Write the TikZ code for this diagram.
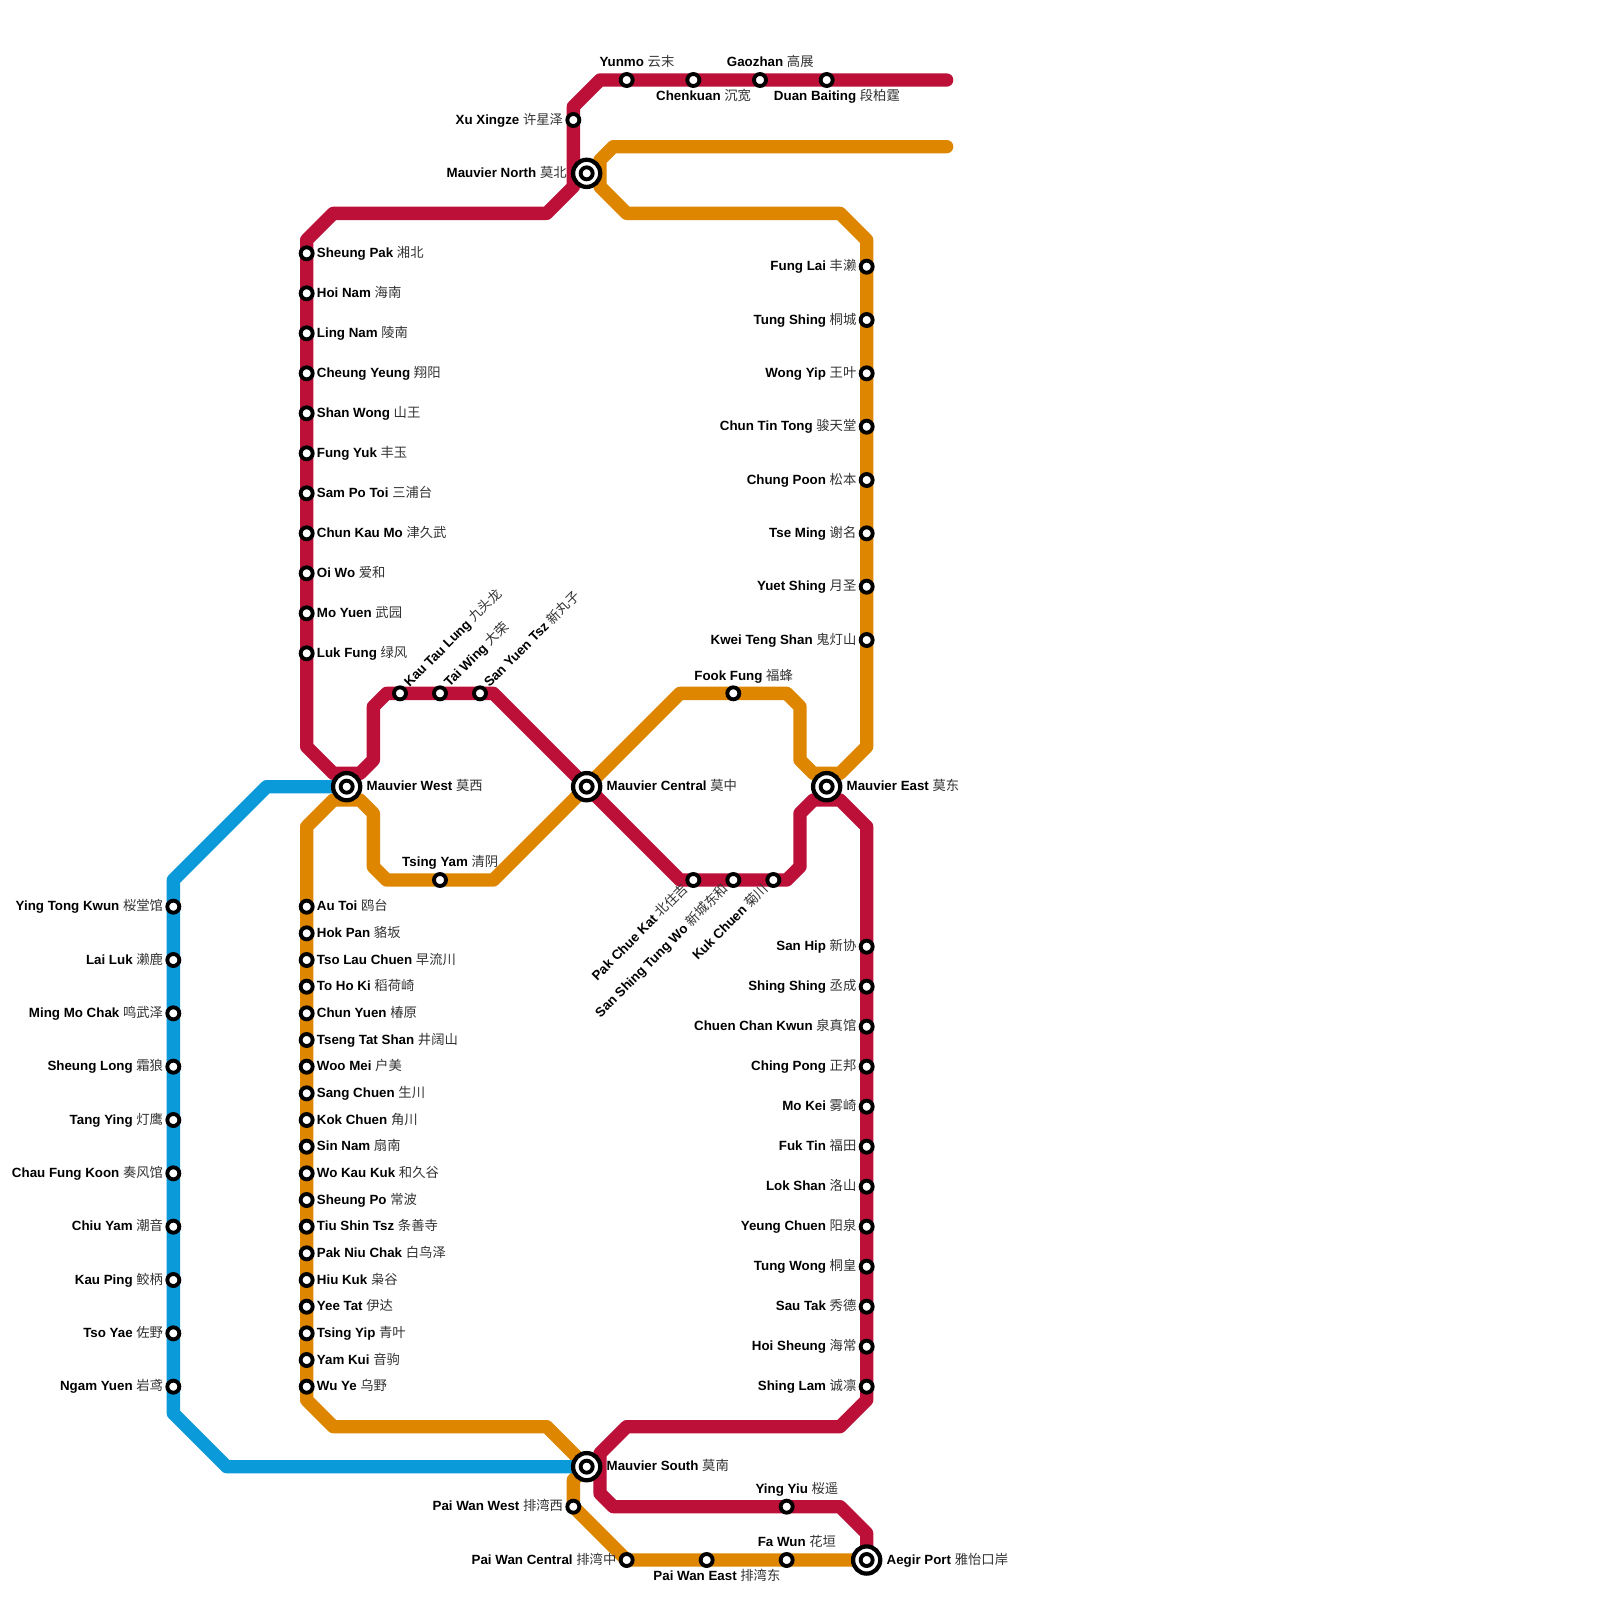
\documentclass[tikz,border=0pt]{standalone}
\usepackage{fontspec}
\setmainfont{Liberation Sans}
\newfontfamily\cjk{Noto Sans CJK SC}
\usetikzlibrary{backgrounds}
\definecolor{redline}{HTML}{BC1038}
\definecolor{orangeline}{HTML}{DF8600}
\definecolor{blueline}{HTML}{0A99D9}
\definecolor{cjkgray}{HTML}{333333}
\newcommand{\nm}[2]{\textbf{#1} {\cjk\color{cjkgray}#2}}
\tikzset{
  route/.style={line width=10pt,line cap=round,line join=round},
  stn/.style={circle,draw=black,fill=white,line width=2.9pt,minimum size=9pt,inner sep=0pt,outer sep=0pt},
  hub/.style={circle,draw=black,fill=white,line width=3.2pt,minimum size=20.4pt,inner sep=0pt,outer sep=0pt},
  lbl/.style={inner sep=0pt,outer sep=0pt,text=black,font=\fontsize{10}{12}\selectfont},
}
% label placers: #1 station, #2 latin, #3 cjk
\newcommand{\labE}[3]{\node[lbl,anchor=base west] (#1-l) at ([shift={(0.77,0.30)}]#1.center) {\nm{#2}{#3}};}
\newcommand{\labW}[3]{\node[lbl,anchor=base east] (#1-l) at ([shift={(-0.77,0.30)}]#1.center) {\nm{#2}{#3}};}
\newcommand{\labHE}[3]{\node[lbl,anchor=base west] (#1-l) at ([shift={(1.5,0.30)}]#1.center) {\nm{#2}{#3}};}
\newcommand{\labHW}[3]{\node[lbl,anchor=base east] (#1-l) at ([shift={(-1.5,0.30)}]#1.center) {\nm{#2}{#3}};}
\newcommand{\labN}[3]{\node[lbl,anchor=base] (#1-l) at ([shift={(0.77,-0.98)}]#1.center) {\nm{#2}{#3}};}
\newcommand{\labS}[3]{\node[lbl,anchor=base] (#1-l) at ([shift={(0.77,1.55)}]#1.center) {\nm{#2}{#3}};}
\newcommand{\labNE}[3]{\node[lbl,anchor=base west,rotate=45] (#1-l) at ([shift={(0.72,-0.42)}]#1.center) {\nm{#2}{#3}};}
\newcommand{\labSW}[3]{\node[lbl,anchor=base east,rotate=45] (#1-l) at ([shift={(-0.32,0.72)}]#1.center) {\nm{#2}{#3}};}
\begin{document}
\begin{tikzpicture}[x=10pt,y=-10pt]
\useasboundingbox (0,0) rectangle (120,120);
% bends and free ends
\foreach \n/\x/\y in {p1/71/6,p2/45/6,p3/43/8,p4/43/14,p5/41/16,p6/25/16,p7/23/18,p8/23/56,p9/25/58,p10/27/58,p11/28/57,p12/28/53,p13/29/52,p14/37/52,p15/51/66,p16/59/66,p17/60/65,p18/60/61,p19/61/60,p20/63/60,p21/65/62,p22/65/105,p23/63/107,p24/47/107,p25/45/109,p26/45/112,p27/46/113,p28/63/113,p29/65/115,
 q1/71/11,q2/46/11,q3/45/12,q4/45/14,q5/47/16,q6/63/16,q7/65/18,q8/65/56,q9/63/58,q10/61/58,q11/60/57,q12/60/53,q13/59/52,q14/51/52,q15/37/66,q16/29/66,q17/28/65,q18/28/61,q19/27/60,q20/25/60,q21/23/62,q22/23/105,q23/25/107,q24/41/107,q25/43/111,
 u2/20/59,u3/13/66,u4/13/106,u5/17/110}
  \coordinate (\n) at (\x,\y);
% hubs
\foreach \n/\x/\y in {north/44/13,west/26/59,central/44/59,east/62/59,south/44/110,aegir/65/117}{
  \node[hub] (\n) at (\x,\y) {};
  \node[stn] (\n-in) at (\x,\y) {};
}
\labHW{north}{Mauvier North}{莫北}
\labHE{west}{Mauvier West}{莫西}
\labHE{central}{Mauvier Central}{莫中}
\labHE{east}{Mauvier East}{莫东}
\labHE{south}{Mauvier South}{莫南}
\labHE{aegir}{Aegir Port}{雅怡口岸}
% single stations
\foreach \n/\x/\y in {xu/43/9,yunmo/47/6,chenkuan/52/6,gaozhan/57/6,duan/62/6,kau/30/52,taiwing/33/52,sanyuen/36/52,fook/55/52,tsing/33/66,pak/52/66,sanshing/55/66,kuk/58/66,pww/43/113,pwc/47/117,pwe/53/117,fawun/59/117,yingyiu/59/113}
  \node[stn] (\n) at (\x,\y) {};
\labW{xu}{Xu Xingze}{许星泽}
\labN{yunmo}{Yunmo}{云末}
\labS{chenkuan}{Chenkuan}{沉宽}
\labN{gaozhan}{Gaozhan}{高展}
\labS{duan}{Duan Baiting}{段柏霆}
\labNE{kau}{Kau Tau Lung}{九头龙}
\labNE{taiwing}{Tai Wing}{大荣}
\labNE{sanyuen}{San Yuen Tsz}{新丸子}
\labN{fook}{Fook Fung}{福蜂}
\labN{tsing}{Tsing Yam}{清阴}
\labSW{pak}{Pak Chue Kat}{北住吉}
\labSW{sanshing}{San Shing Tung Wo}{新城东和}
\labSW{kuk}{Kuk Chuen}{菊川}
\labW{pww}{Pai Wan West}{排湾西}
\labW{pwc}{Pai Wan Central}{排湾中}
\labS{pwe}{Pai Wan East}{排湾东}
\labN{fawun}{Fa Wun}{花垣}
\labN{yingyiu}{Ying Yiu}{桜遥}
% red, left column
\foreach \n/\y/\a/\b in {ra1/19/Sheung Pak/湘北,ra2/22/Hoi Nam/海南,ra3/25/Ling Nam/陵南,ra4/28/Cheung Yeung/翔阳,ra5/31/Shan Wong/山王,ra6/34/Fung Yuk/丰玉,ra7/37/Sam Po Toi/三浦台,ra8/40/Chun Kau Mo/津久武,ra9/43/Oi Wo/爱和,ra10/46/Mo Yuen/武园,ra11/49/Luk Fung/绿风}{
  \node[stn] (\n) at (23,\y) {};
  \labE{\n}{\a}{\b}
}
% red, right column
\foreach \n/\y/\a/\b in {rb1/71/San Hip/新协,rb2/74/Shing Shing/丞成,rb3/77/Chuen Chan Kwun/泉真馆,rb4/80/Ching Pong/正邦,rb5/83/Mo Kei/雾崎,rb6/86/Fuk Tin/福田,rb7/89/Lok Shan/洛山,rb8/92/Yeung Chuen/阳泉,rb9/95/Tung Wong/桐皇,rb10/98/Sau Tak/秀德,rb11/101/Hoi Sheung/海常,rb12/104/Shing Lam/诚凛}{
  \node[stn] (\n) at (65,\y) {};
  \labW{\n}{\a}{\b}
}
% orange, right column
\foreach \n/\y/\a/\b in {oa1/20/Fung Lai/丰濑,oa2/24/Tung Shing/桐城,oa3/28/Wong Yip/王叶,oa4/32/Chun Tin Tong/骏天堂,oa5/36/Chung Poon/松本,oa6/40/Tse Ming/谢名,oa7/44/Yuet Shing/月圣,oa8/48/Kwei Teng Shan/鬼灯山}{
  \node[stn] (\n) at (65,\y) {};
  \labW{\n}{\a}{\b}
}
% orange, left column
\foreach \n/\y/\a/\b in {ob1/68/Au Toi/鸥台,ob2/70/Hok Pan/貉坂,ob3/72/Tso Lau Chuen/早流川,ob4/74/To Ho Ki/稻荷崎,ob5/76/Chun Yuen/椿原,ob6/78/Tseng Tat Shan/井阔山,ob7/80/Woo Mei/户美,ob8/82/Sang Chuen/生川,ob9/84/Kok Chuen/角川,ob10/86/Sin Nam/扇南,ob11/88/Wo Kau Kuk/和久谷,ob12/90/Sheung Po/常波,ob13/92/Tiu Shin Tsz/条善寺,ob14/94/Pak Niu Chak/白鸟泽,ob15/96/Hiu Kuk/枭谷,ob16/98/Yee Tat/伊达,ob17/100/Tsing Yip/青叶,ob18/102/Yam Kui/音驹,ob19/104/Wu Ye/乌野}{
  \node[stn] (\n) at (23,\y) {};
  \labE{\n}{\a}{\b}
}
% blue column
\foreach \n/\y/\a/\b in {ba1/68/Ying Tong Kwun/桜堂馆,ba2/72/Lai Luk/濑鹿,ba3/76/Ming Mo Chak/鸣武泽,ba4/80/Sheung Long/霜狼,ba5/84/Tang Ying/灯鹰,ba6/88/Chau Fung Koon/奏风馆,ba7/92/Chiu Yam/潮音,ba8/96/Kau Ping/鲛柄,ba9/100/Tso Yae/佐野,ba10/104/Ngam Yuen/岩鸢}{
  \node[stn] (\n) at (13,\y) {};
  \labW{\n}{\a}{\b}
}
\begin{pgfonlayer}{background}
\fill[white] (0,0) rectangle (120,120);
\draw[route,draw=redline] (p1) -- (duan.center) -- (gaozhan.center) -- (chenkuan.center) -- (yunmo.center) -- (p2) -- (p3) -- (xu.center) -- (p4) -- (p5) -- (p6) -- (p7)
 -- (ra1.center) -- (ra2.center) -- (ra3.center) -- (ra4.center) -- (ra5.center) -- (ra6.center) -- (ra7.center) -- (ra8.center) -- (ra9.center) -- (ra10.center) -- (ra11.center)
 -- (p8) -- (p9) -- (p10) -- (p11) -- (p12) -- (p13) -- (kau.center) -- (taiwing.center) -- (sanyuen.center) -- (p14) -- (central.center) -- (p15)
 -- (pak.center) -- (sanshing.center) -- (kuk.center) -- (p16) -- (p17) -- (p18) -- (p19) -- (p20) -- (p21)
 -- (rb1.center) -- (rb2.center) -- (rb3.center) -- (rb4.center) -- (rb5.center) -- (rb6.center) -- (rb7.center) -- (rb8.center) -- (rb9.center) -- (rb10.center) -- (rb11.center) -- (rb12.center)
 -- (p22) -- (p23) -- (p24) -- (p25) -- (p26) -- (p27) -- (yingyiu.center) -- (p28) -- (p29) -- (aegir.center);
\draw[route,draw=orangeline] (q1) -- (q2) -- (q3) -- (q4) -- (q5) -- (q6) -- (q7)
 -- (oa1.center) -- (oa2.center) -- (oa3.center) -- (oa4.center) -- (oa5.center) -- (oa6.center) -- (oa7.center) -- (oa8.center)
 -- (q8) -- (q9) -- (q10) -- (q11) -- (q12) -- (q13) -- (fook.center) -- (q14) -- (central.center) -- (q15) -- (tsing.center) -- (q16) -- (q17) -- (q18) -- (q19) -- (q20) -- (q21)
 -- (ob1.center) -- (ob2.center) -- (ob3.center) -- (ob4.center) -- (ob5.center) -- (ob6.center) -- (ob7.center) -- (ob8.center) -- (ob9.center) -- (ob10.center) -- (ob11.center) -- (ob12.center) -- (ob13.center) -- (ob14.center) -- (ob15.center) -- (ob16.center) -- (ob17.center) -- (ob18.center) -- (ob19.center)
 -- (q22) -- (q23) -- (q24) -- (south.center) -- (q25) -- (pww.center) -- (pwc.center) -- (pwe.center) -- (fawun.center) -- (aegir.center);
\draw[route,draw=blueline] (west.center) -- (u2) -- (u3)
 -- (ba1.center) -- (ba2.center) -- (ba3.center) -- (ba4.center) -- (ba5.center) -- (ba6.center) -- (ba7.center) -- (ba8.center) -- (ba9.center) -- (ba10.center)
 -- (u4) -- (u5) -- (south.center);
\end{pgfonlayer}
\end{tikzpicture}
\end{document}
